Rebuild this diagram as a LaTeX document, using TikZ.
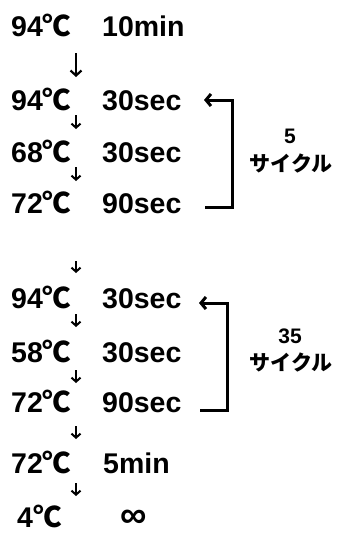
\documentclass[tikz,border=0pt]{standalone}
\usepackage{fontspec}
\setmainfont{Liberation Sans}
\newfontfamily\jpfont{Noto Sans CJK JP}
\usetikzlibrary{arrows.meta}
\newcommand\degC{{\jpfont\bfseries ℃}}
\begin{document}
\begin{tikzpicture}[x=1pt,y=-1pt,
  tx/.style={inner sep=0pt,anchor=base west,font=\bfseries\fontsize{28.5}{28.5}\selectfont},
  lb/.style={inner sep=0pt,anchor=base,font=\bfseries\fontsize{21}{21}\selectfont},
  downbig/.style={line width=2.2pt,-{Straight Barb[length=5pt,width=11pt]}},
  downsmall/.style={line width=2pt,-{Straight Barb[length=4pt,width=9pt]}},
  bk/.style={line width=3pt,-{Straight Barb[length=5pt,width=12pt]}}]
\useasboundingbox (0,0) rectangle (338,533);
% rows
\node[tx] (c1) at (11,36) {94\degC};
\node[tx] (t1) at (102,36) {10min};
\node[tx] (c2) at (11,110) {94\degC};
\node[tx] (t2) at (102,110) {30sec};
\node[tx] (c3) at (11,162) {68\degC};
\node[tx] (t3) at (102,162) {30sec};
\node[tx] (c4) at (11,213) {72\degC};
\node[tx] (t4) at (102,213) {90sec};
\node[tx] (c5) at (11,308) {94\degC};
\node[tx] (t5) at (102,308) {30sec};
\node[tx] (c6) at (11,362) {58\degC};
\node[tx] (t6) at (102,362) {30sec};
\node[tx] (c7) at (11,412) {72\degC};
\node[tx] (t7) at (102,412) {90sec};
\node[tx] (c8) at (11,473) {72\degC};
\node[tx] (t8) at (103,473) {5min};
\node[tx] (c9) at (17,527) {4\degC};
\node[tx,font=\bfseries\fontsize{37}{37}\selectfont] (t9) at (120,527) {∞};
% down arrows
\coordinate (a1s) at (76,53);  \coordinate (a1e) at (76,77);
\coordinate (a2s) at (76,115); \coordinate (a2e) at (76,129);
\coordinate (a3s) at (76,167); \coordinate (a3e) at (76,181);
\coordinate (a4s) at (76,261); \coordinate (a4e) at (76,273);
\coordinate (a5s) at (76,314); \coordinate (a5e) at (76,327);
\coordinate (a6s) at (76,370); \coordinate (a6e) at (76,383);
\coordinate (a7s) at (76,426); \coordinate (a7e) at (76,439);
\coordinate (a8s) at (76,483); \coordinate (a8e) at (76,496);
\draw[downbig] (a1s) -- (a1e);
\foreach \i in {2,...,8} \draw[downsmall] (a\i s) -- (a\i e);
% cycle brackets
\coordinate (b1s) at (205,207); \coordinate (b1e) at (204,100);
\draw[bk] (b1s) -- (232,207) |- (b1e);
\coordinate (b2s) at (200,410); \coordinate (b2e) at (199,303);
\draw[bk] (b2s) -- (227,410) |- (b2e);
% labels
\node[lb] (n1) at (290,143) {5};
\node[lb] (k1) at (291,171) {\jpfont\bfseries サイクル};
\node[lb] (n2) at (290,343) {35};
\node[lb] (k2) at (291,370) {\jpfont\bfseries サイクル};
\end{tikzpicture}
\end{document}
